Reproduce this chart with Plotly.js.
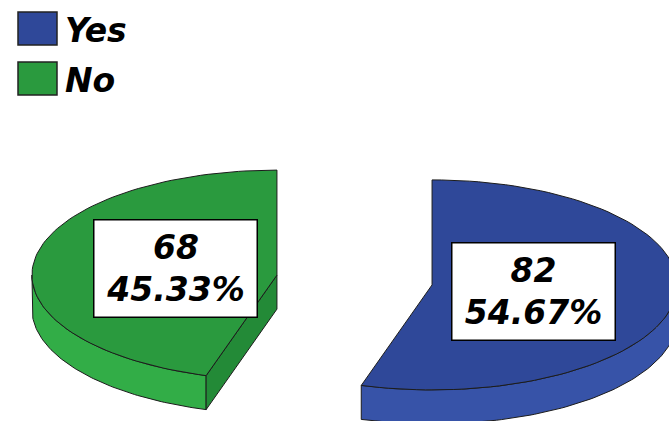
<!DOCTYPE html>
<html>
<head>
<meta charset="utf-8">
<script src="https://cdn.plot.ly/plotly-3.0.1.min.js"></script>
<style>html,body{margin:0;padding:0;background:#fff;}#chart{width:669px;height:421px;}</style>
</head>
<body>
<div id="chart"></div>
<script>
// ---- data ----
const categories = ['Yes', 'No'];
const values = [82, 68];
const topColors = ['#2f4899', '#2a9a3e'];
const sideColors = ['#3753a8', '#32ad47'];
const cutColors = ['#2a4290', '#238a37'];

// ---- geometry of the tilted pie (layout constants, pixel-like axis units) ----
const W = 669, H = 421;
const cx0 = 354.5, cy0 = 280, A = 245, B = 105, DEPTH = 34, PULL = 0.32, LABEL_R = 0.42;
const N = 90;
const total = values.reduce((s, v) => s + v, 0);

function pt(cx, cy, th, dy) {
  return [cx + A * Math.sin(th), cy - B * Math.cos(th) + (dy || 0)];
}
function arc(cx, cy, t1, t2, dy) {
  const pts = [];
  for (let k = 0; k <= N; k++) {
    const t = t1 + (t2 - t1) * k / N;
    pts.push(pt(cx, cy, t, dy));
  }
  return pts;
}
function poly(pts, color, name) {
  return {
    type: 'scatter', mode: 'lines', fill: 'toself', fillcolor: color,
    x: pts.map(p => p[0]), y: pts.map(p => p[1]),
    line: {color: '#1c1c1c', width: 1}, hoverinfo: 'skip', showlegend: false, name: name
  };
}

const traces = [];
const annotations = [];
const shapes = [];
let start = 0;
values.forEach((v, i) => {
  const sweep = v / total * 2 * Math.PI;
  const t1 = start, t2 = start + sweep, mid = (t1 + t2) / 2;
  start = t2;
  const cx = cx0 + PULL * A * Math.sin(mid);
  const cy = cy0 - PULL * B * Math.cos(mid);

  // outer (curved) wall - only the front-facing part
  const lo = Math.max(t1, Math.PI / 2), hi = Math.min(t2, 3 * Math.PI / 2);
  if (lo < hi) {
    const topArc = arc(cx, cy, lo, hi, 0);
    const botArc = arc(cx, cy, hi, lo, DEPTH);
    const pts = topArc.concat(botArc);
    pts.push(topArc[0]);
    traces.push(poly(pts, sideColors[i], categories[i]));
  }
  // radial cut walls
  [[t1, t1 - Math.PI / 2], [t2, t2 + Math.PI / 2]].forEach(([t, n]) => {
    if (Math.cos(n) < -1e-6) {
      const e = pt(cx, cy, t, 0), eb = pt(cx, cy, t, DEPTH);
      const pts = [[cx, cy], e, eb, [cx, cy + DEPTH], [cx, cy]];
      traces.push(poly(pts, cutColors[i], categories[i]));
    }
  });
  // top face
  const topPts = [[cx, cy]].concat(arc(cx, cy, t1, t2, 0));
  topPts.push([cx, cy]);
  traces.push(poly(topPts, topColors[i], categories[i]));

  // value label
  const lp = [cx + LABEL_R * A * Math.sin(mid), cy - LABEL_R * B * Math.cos(mid)];
  annotations.push({
    x: lp[0], y: lp[1], xref: 'x', yref: 'y', showarrow: false,
    text: '<b><i>' + v + '<br>' + (v / total * 100).toFixed(2) + '%</i></b>',
    font: {family: 'DejaVu Sans', size: 33, color: '#000'},
    bgcolor: '#ffffff', bordercolor: '#000000', borderwidth: 1.5, borderpad: 3,
    width: 156, height: 90, align: 'center', xanchor: 'center', yanchor: 'middle'
  });

  // legend item
  const ly = 12 + i * 50;
  shapes.push({type: 'rect', xref: 'x', yref: 'y', x0: 18, x1: 57, y0: ly, y1: ly + 33,
    fillcolor: topColors[i], line: {color: '#222', width: 1.5}});
  annotations.push({
    x: 63, y: ly + 18, xref: 'x', yref: 'y', showarrow: false, xanchor: 'left', yanchor: 'middle',
    text: '<b><i>' + categories[i] + '</i></b>',
    font: {family: 'DejaVu Sans', size: 33, color: '#000'}
  });
});

const layout = {
  width: W, height: H, margin: {l: 0, r: 0, t: 0, b: 0},
  paper_bgcolor: '#ffffff', plot_bgcolor: '#ffffff', showlegend: false,
  xaxis: {range: [0, W], visible: false, fixedrange: true},
  yaxis: {range: [H, 0], visible: false, fixedrange: true},
  annotations: annotations, shapes: shapes
};
Plotly.newPlot('chart', traces, layout, {displayModeBar: false, staticPlot: true});
</script>
</body>
</html>
